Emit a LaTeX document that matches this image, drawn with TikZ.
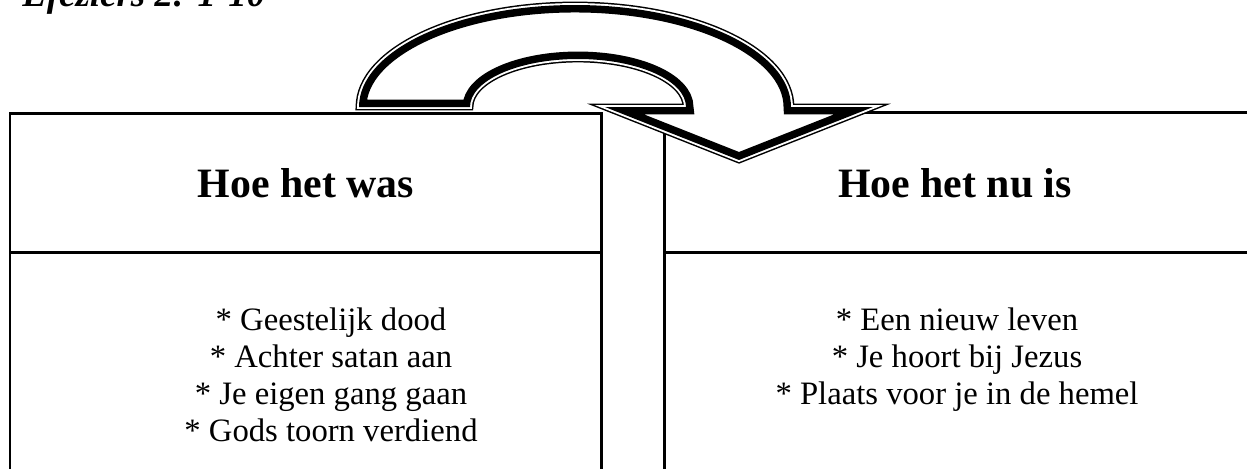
\documentclass[tikz,border=0pt]{standalone}
\usepackage{fontspec}
\setmainfont{Liberation Serif}

\begin{document}
\begin{tikzpicture}[
        x=0.02cm, y=-0.02cm,
        box/.style={line width=1.7pt},
        head/.style={anchor=base,inner sep=0pt,font=\fontsize{23.8}{28}\selectfont\bfseries},
        item/.style={anchor=base,inner sep=0pt,font=\fontsize{18.6}{21}\selectfont}
    ]

    \clip (0,0) rectangle (1247,468);

    \node[anchor=base west,inner sep=0pt,font=\fontsize{21}{25}\selectfont\bfseries\itshape] (title) at (22,6) {Efeziërs 2: 1-10};

    % the two boxes
    \draw[box] (10,480) |- (601,113) -- (601,480);
    \draw[box] (10,252) -- (601,252);
    \draw[box] (664,480) |- (1260,112);
    \draw[box] (664,252) -- (1260,252);

    \node[head] (was) at (306,197) {Hoe het was};
    \node[head] (nu) at (955,197) {Hoe het nu is};

    \foreach \txt [count=\i] in {Geestelijk dood, Achter satan aan, Je eigen gang gaan, Gods toorn verdiend}
        \node[item] (was\i) at (331,{330+37*(\i-1)}) {* \txt};
    \foreach \txt [count=\i] in {Een nieuw leven, Je hoort bij Jezus, Plaats voor je in de hemel}
        \node[item] (nu\i) at (957,{330+37*(\i-1)}) {* \txt};

    % curved arrow, thin-thick border
    \def\arrowpath{(359,107) arc[start angle=180,end angle=360,x radius=216,y radius=102]
        -- (873,107) -- (739,160) -- (605,107) -- (686,107)
        arc[start angle=360,end angle=180,x radius=108,y radius=48] -- cycle}
    \fill[white] \arrowpath;
    \draw[line width=3.9pt] \arrowpath;
    \draw[white,line width=2.2pt] \arrowpath;
    \begin{scope}
        \clip \arrowpath;
        \draw[line width=8.5pt] \arrowpath;
    \end{scope}

\end{tikzpicture}
\end{document}
